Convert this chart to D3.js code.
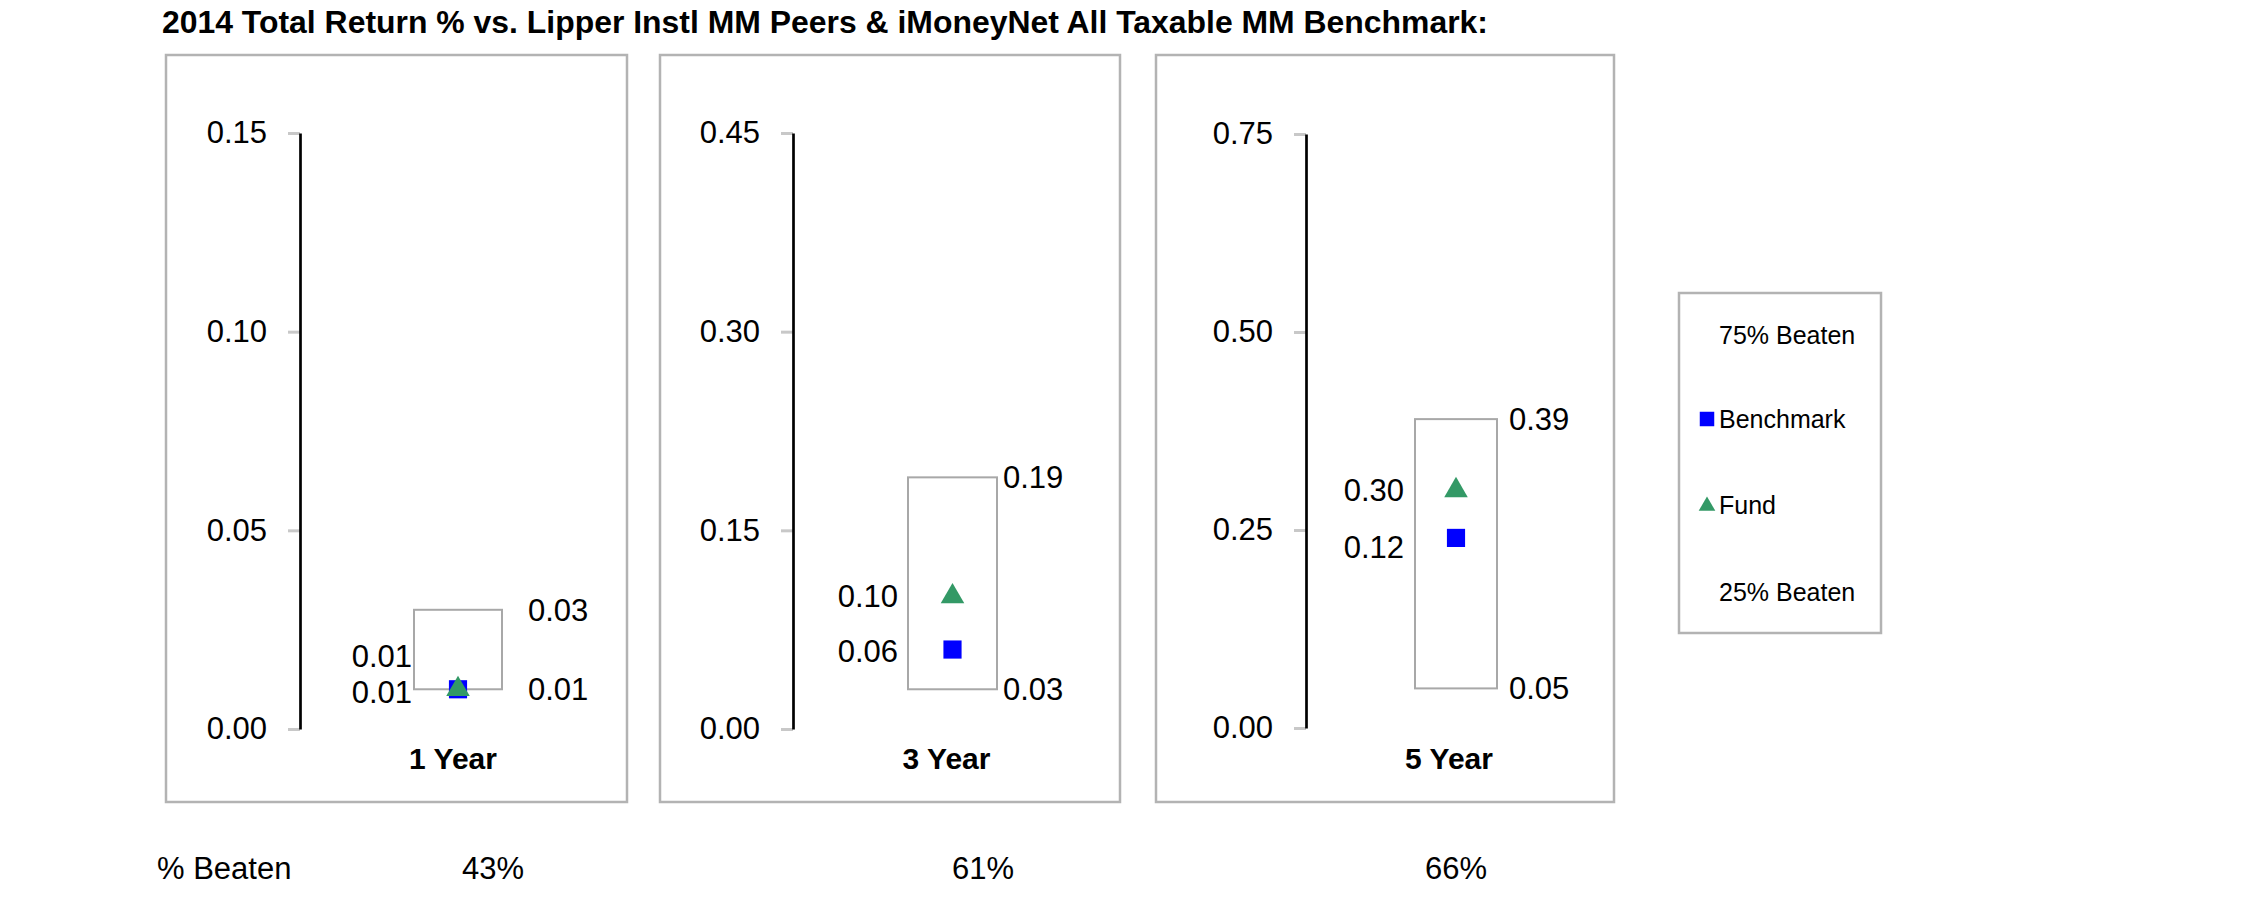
<!DOCTYPE html>
<html>
<head>
<meta charset="utf-8">
<script src="https://cdn.jsdelivr.net/npm/d3@7"></script>
<style>
  html, body { margin: 0; padding: 0; background: #fff; }
  svg { display: block; }
</style>
</head>
<body>
<script>
// ---------- DATA ----------
const title = "2014 Total Return % vs. Lipper Instl MM Peers & iMoneyNet All Taxable MM Benchmark:";
const categories = ["1 Year", "3 Year", "5 Year"];
const pct75Beaten = [0.03, 0.19, 0.39];
const pct25Beaten = [0.01, 0.03, 0.05];
const fundValues = [0.01, 0.10, 0.30];
const benchmarkValues = [0.01, 0.06, 0.24];
const fundLabels = ["0.01", "0.10", "0.30"];
const benchmarkLabels = ["0.01", "0.06", "0.12"];
const pct75Labels = ["0.03", "0.19", "0.39"];
const pct25Labels = ["0.01", "0.03", "0.05"];
const axisMax = [0.15, 0.45, 0.75];
const tickValues = [
  [0, 0.05, 0.10, 0.15],
  [0, 0.15, 0.30, 0.45],
  [0, 0.25, 0.50, 0.75]
];
const tickLabels = [
  ["0.00", "0.05", "0.10", "0.15"],
  ["0.00", "0.15", "0.30", "0.45"],
  ["0.00", "0.25", "0.50", "0.75"]
];
const beatenRowLabel = "% Beaten";
const pctBeaten = ["43%", "61%", "66%"];
const legendItems = ["75% Beaten", "Benchmark", "Fund", "25% Beaten"];

// ---------- LAYOUT (positions / styles) ----------
const W = 2251, H = 898;
const FONT = "'Liberation Sans', Arial, Helvetica, sans-serif";
const FUND_COLOR = "#339966";
const BENCH_COLOR = "#0000ff";
const panels = [
  { left: 166, right: 627, top: 55, bottom: 802, axisX: 300, yTop: 133, yBot: 729, boxX: 414, boxW: 88, leftGap: 2, rightGap: 26, benchDy: 3, catDx: -5 },
  { left: 660, right: 1120, top: 55, bottom: 802, axisX: 793, yTop: 133, yBot: 729, boxX: 908, boxW: 89, leftGap: 10, rightGap: 6, benchDy: 2, catDx: -6 },
  { left: 1156, right: 1614, top: 55, bottom: 802, axisX: 1306, yTop: 134, yBot: 728, boxX: 1415, boxW: 82, leftGap: 11, rightGap: 12, benchDy: 9, catDx: -7 }
];
const pctX = [462, 952, 1425];

const svg = d3.select("body").append("svg")
  .attr("width", W).attr("height", H)
  .attr("font-family", FONT);

svg.append("rect").attr("width", W).attr("height", H).attr("fill", "#fff");

// Title
svg.append("text")
  .attr("x", 162).attr("y", 33)
  .attr("font-size", 31).attr("font-weight", "bold").attr("fill", "#000")
  .attr("textLength", 1326).attr("lengthAdjust", "spacingAndGlyphs")
  .text(title);

const triangle = d3.symbol().type(d3.symbolTriangle).size(240);
const square = d3.symbol().type(d3.symbolSquare).size(330);

panels.forEach((p, i) => {
  const g = svg.append("g");

  // Panel frame
  g.append("rect")
    .attr("x", p.left).attr("y", p.top)
    .attr("width", p.right - p.left).attr("height", p.bottom - p.top)
    .attr("fill", "none").attr("stroke", "#b3b3b3").attr("stroke-width", 2.5);

  const y = d3.scaleLinear().domain([0, axisMax[i]]).range([p.yBot, p.yTop]);
  const x = d3.scaleBand().domain([categories[i]]).range([p.boxX, p.boxX + p.boxW]).padding(0);
  const cx = x(categories[i]) + x.bandwidth() / 2;

  // Axis
  const axis = d3.axisLeft(y)
    .tickValues(tickValues[i])
    .tickFormat((d, j) => tickLabels[i][j])
    .tickSize(12).tickSizeOuter(0).tickPadding(21);
  const ag = g.append("g").attr("transform", `translate(${p.axisX},0)`).call(axis);
  ag.attr("font-family", FONT).attr("font-size", 31);
  ag.selectAll(".tick line").attr("stroke", "#c8c8c8").attr("stroke-width", 3);
  ag.selectAll(".tick text").attr("fill", "#000");
  ag.select(".domain").attr("stroke", "#000").attr("stroke-width", 2.7).raise();

  // Box (25% - 75% beaten)
  g.append("rect")
    .attr("x", x(categories[i]))
    .attr("y", y(pct75Beaten[i]))
    .attr("width", x.bandwidth())
    .attr("height", y(pct25Beaten[i]) - y(pct75Beaten[i]))
    .attr("fill", "none").attr("stroke", "#a8a8a8").attr("stroke-width", 2);

  // Markers
  g.append("path").attr("d", square())
    .attr("transform", `translate(${cx},${y(benchmarkValues[i])})`)
    .attr("fill", BENCH_COLOR);
  g.append("path").attr("d", triangle())
    .attr("transform", `translate(${cx},${y(fundValues[i])})`)
    .attr("fill", FUND_COLOR);

  // Left value labels (fund / benchmark)
  const benchY = y(benchmarkValues[i]) + p.benchDy;
  const fundY = Math.min(y(fundValues[i]), benchY - 36);
  const lx = x(categories[i]) - p.leftGap;
  g.append("text").attr("x", lx).attr("y", fundY).attr("dy", "0.35em")
    .attr("text-anchor", "end").attr("font-size", 31).attr("fill", "#000")
    .text(fundLabels[i]);
  g.append("text").attr("x", lx).attr("y", benchY).attr("dy", "0.35em")
    .attr("text-anchor", "end").attr("font-size", 31).attr("fill", "#000")
    .text(benchmarkLabels[i]);

  // Right value labels (75% / 25%)
  const rx = x(categories[i]) + x.bandwidth() + p.rightGap;
  g.append("text").attr("x", rx).attr("y", y(pct75Beaten[i])).attr("dy", "0.35em")
    .attr("font-size", 31).attr("fill", "#000").text(pct75Labels[i]);
  g.append("text").attr("x", rx).attr("y", y(pct25Beaten[i])).attr("dy", "0.35em")
    .attr("font-size", 31).attr("fill", "#000").text(pct25Labels[i]);

  // Category label
  g.append("text").attr("x", cx + p.catDx).attr("y", 758).attr("dy", "0.35em")
    .attr("text-anchor", "middle").attr("font-size", 30).attr("font-weight", "bold")
    .attr("fill", "#000").text(categories[i]);
});

// % Beaten row
svg.append("text").attr("x", 157).attr("y", 868).attr("dy", "0.35em")
  .attr("font-size", 31).attr("fill", "#000").text(beatenRowLabel);
svg.selectAll(".pct").data(pctBeaten).enter().append("text")
  .attr("class", "pct")
  .attr("x", (d, i) => pctX[i]).attr("y", 868).attr("dy", "0.35em")
  .attr("font-size", 31).attr("fill", "#000").text(d => d);

// Legend
const lg = svg.append("g");
lg.append("rect").attr("x", 1679).attr("y", 293).attr("width", 202).attr("height", 340)
  .attr("fill", "#fff").attr("stroke", "#b3b3b3").attr("stroke-width", 2.5);
const legendY = [335, 419, 505, 592];
lg.selectAll(".lt").data(legendItems).enter().append("text")
  .attr("class", "lt")
  .attr("x", (d, i) => (i === 1 || i === 2) ? 1719 : 1719)
  .attr("y", (d, i) => legendY[i]).attr("dy", "0.35em")
  .attr("font-size", 25).attr("fill", "#000").text(d => d);
lg.append("path").attr("d", d3.symbol().type(d3.symbolSquare).size(210)())
  .attr("transform", `translate(1707,${legendY[1]})`).attr("fill", BENCH_COLOR);
lg.append("path").attr("d", d3.symbol().type(d3.symbolTriangle).size(120)())
  .attr("transform", `translate(1707,${legendY[2] + 1})`).attr("fill", FUND_COLOR);
</script>
</body>
</html>
